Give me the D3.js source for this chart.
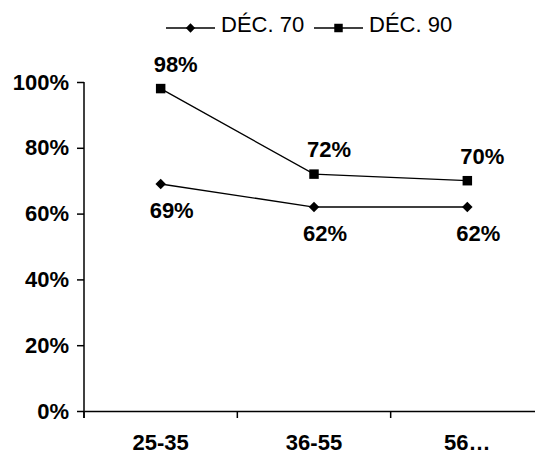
<!DOCTYPE html>
<html>
<head>
<meta charset="utf-8">
<script src="https://cdn.jsdelivr.net/npm/d3@7/dist/d3.min.js"></script>
<style>
  body { margin: 0; background: #fff; }
  text { font-family: "Liberation Sans", Arial, sans-serif; }
</style>
</head>
<body>
<div id="container"></div>
<script>
/* CONSTANTS AND GLOBALS */
const width = 535,
  height = 454,
  margin = { top: 82, bottom: 43, left: 84, right: -9 }

// data
const categories = ["25-35", "36-55", "56…"]
const dec70 = [69, 62, 62]
const dec90 = [98, 72, 70]
const seriesNames = ["DÉC. 70", "DÉC. 90"]
const yTicks = [0, 20, 40, 60, 80, 100]

const series = [
  { name: seriesNames[0], values: dec70, symbol: d3.symbolDiamond2, size: 70, labelDy: 34, labelDx: 11 },
  { name: seriesNames[1], values: dec90, symbol: d3.symbolSquare, size: 90, labelDy: -17, labelDx: 15 }
]

/* SCALES */
const xScale = d3.scaleBand()
  .domain(categories)
  .range([margin.left, width - margin.right])
  .padding(0)

const yScale = d3.scaleLinear()
  .domain([0, 100])
  .range([height - margin.bottom, margin.top])

/* SVG */
const svg = d3.select("#container")
  .append("svg")
  .attr("width", width)
  .attr("height", height)

/* AXES */
const yAxis = d3.axisLeft(yScale)
  .tickValues(yTicks)
  .tickFormat(d => d + "%")
  .tickSize(7)
  .tickSizeOuter(0)
  .tickPadding(8)

const yAxisGroup = svg.append("g")
  .attr("transform", `translate(${margin.left}, 0)`)
  .call(yAxis)

yAxisGroup.select(".domain")
  .attr("d", `M0,${yScale(100)}V${yScale(0) + 7}`)

const xAxis = d3.axisBottom(xScale)
  .tickSize(0)
  .tickSizeOuter(0)
  .tickPadding(23)

const xAxisGroup = svg.append("g")
  .attr("transform", `translate(0, ${yScale(0)})`)
  .call(xAxis)

// boundary tick marks between categories
xAxisGroup.selectAll(".bound")
  .data(categories)
  .join("line")
  .attr("class", "bound")
  .attr("x1", d => xScale(d))
  .attr("x2", d => xScale(d))
  .attr("y1", 0)
  .attr("y2", 7)

svg.selectAll(".domain, .tick line, .bound")
  .attr("stroke", "#000")
  .attr("stroke-width", 1.5)

svg.selectAll(".tick text")
  .attr("fill", "#000")
  .style("font-size", "22px")
  .style("font-weight", "bold")

/* LINES */
const cx = (d, i) => xScale(categories[i]) + xScale.bandwidth() / 2

const lineGen = d3.line()
  .x(cx)
  .y(d => yScale(d))

series.forEach(s => {
  svg.append("path")
    .datum(s.values)
    .attr("fill", "none")
    .attr("stroke", "#000")
    .attr("stroke-width", 1.3)
    .attr("d", lineGen)

  svg.selectAll(null)
    .data(s.values)
    .join("path")
    .attr("transform", (d, i) => `translate(${cx(d, i)}, ${yScale(d)})`)
    .attr("d", d3.symbol().type(s.symbol).size(s.size))
    .attr("fill", "#000")

  svg.selectAll(null)
    .data(s.values)
    .join("text")
    .attr("x", (d, i) => cx(d, i) + s.labelDx)
    .attr("y", d => yScale(d) + s.labelDy)
    .attr("text-anchor", "middle")
    .style("font-size", "22px")
    .style("font-weight", "bold")
    .text(d => d + "%")
})

/* LEGEND */
const legendX = [166, 314]
const legend = svg.selectAll(".legend")
  .data(series)
  .join("g")
  .attr("class", "legend")
  .attr("transform", (d, i) => `translate(${legendX[i]}, 28)`)

legend.append("line")
  .attr("x1", 0)
  .attr("x2", 49)
  .attr("stroke", "#000")
  .attr("stroke-width", 1.3)

legend.append("path")
  .attr("transform", "translate(24.5, 0)")
  .attr("d", d => d3.symbol().type(d.symbol).size(d.size * 0.8)())
  .attr("fill", "#000")

legend.append("text")
  .attr("x", 55)
  .attr("y", 4)
  .style("font-size", "22px")
  .text(d => d.name)
</script>
</body>
</html>
